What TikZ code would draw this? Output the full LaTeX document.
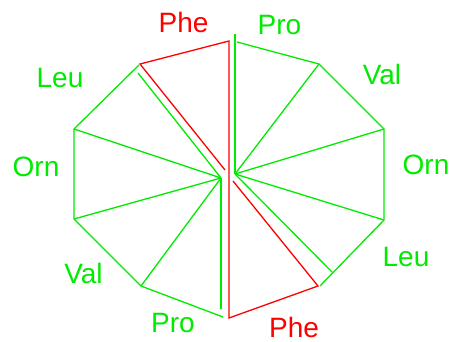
\documentclass[tikz,border=0pt]{standalone}
\usepackage{fontspec}
\setmainfont{Liberation Sans}
\definecolor{pgreen}{RGB}{0,235,0}
\definecolor{pred}{RGB}{255,0,0}
\begin{document}
\begin{tikzpicture}[x=1pt,y=-1pt,
  gline/.style={draw=pgreen,line width=1.3pt,line join=miter},
  rline/.style={draw=pred,line width=1.3pt,line join=miter},
  glabel/.style={text=pgreen,font=\fontsize{28}{30}\selectfont,anchor=base,inner sep=0pt},
  rlabel/.style={text=pred,font=\fontsize{28}{30}\selectfont,anchor=base,inner sep=0pt}]
\useasboundingbox (0,0) rectangle (450,342);
% red (Phe) vertices
\coordinate (pT) at (229,41);
\coordinate (pTL) at (140,64);
\coordinate (pB) at (229,318);
\coordinate (pBR) at (318,286);
\coordinate (rc1) at (225,170);
\coordinate (rc2) at (233,181);
% green right fan
\coordinate (gR) at (235,174);
\coordinate (gRtop) at (235,34);
\coordinate (a1) at (237,42);
\coordinate (v2) at (319,64);
\coordinate (v3) at (384,129);
\coordinate (v4) at (384,220);
\coordinate (v5) at (320,286);
\coordinate (d1) at (332,272);
% green left fan
\coordinate (gL) at (221,178);
\coordinate (gLbot) at (221,309);
\coordinate (b1) at (223,317);
\coordinate (w2) at (141,286);
\coordinate (w3) at (74,219);
\coordinate (w4) at (74,129);
\coordinate (w5) at (139,65);
\coordinate (d2) at (138,73);
% green drawing
\draw[gline] (gRtop) -- (gR);
\draw[gline] (a1) -- (v2) -- (v3) -- (v4) -- (v5);
\draw[gline] (gR) -- (v2);
\draw[gline] (gR) -- (v3);
\draw[gline] (gR) -- (v4);
\draw[gline] (gR) -- (d1);
\draw[gline] (gLbot) -- (gL);
\draw[gline] (b1) -- (w2) -- (w3) -- (w4) -- (w5);
\draw[gline] (gL) -- (w2);
\draw[gline] (gL) -- (w3);
\draw[gline] (gL) -- (w4);
\draw[gline] (gL) -- (d2);
% red drawing
\draw[rline] (rc1) -- (pTL) -- (pT) -- (pB) -- (pBR) -- (rc2);
% labels
\node[rlabel] (pheT) at (183.5,33) {Phe};
\node[glabel] (proT) at (279.5,35) {Pro};
\node[glabel] (valR) at (382,85) {Val};
\node[glabel] (ornR) at (426,175) {Orn};
\node[glabel] (leuR) at (406,266) {Leu};
\node[rlabel] (pheB) at (294,337.5) {Phe};
\node[glabel] (proB) at (173,332) {Pro};
\node[glabel] (valL) at (83.5,283) {Val};
\node[glabel] (ornL) at (36,176) {Orn};
\node[glabel] (leuL) at (60,88) {Leu};
\end{tikzpicture}
\end{document}
